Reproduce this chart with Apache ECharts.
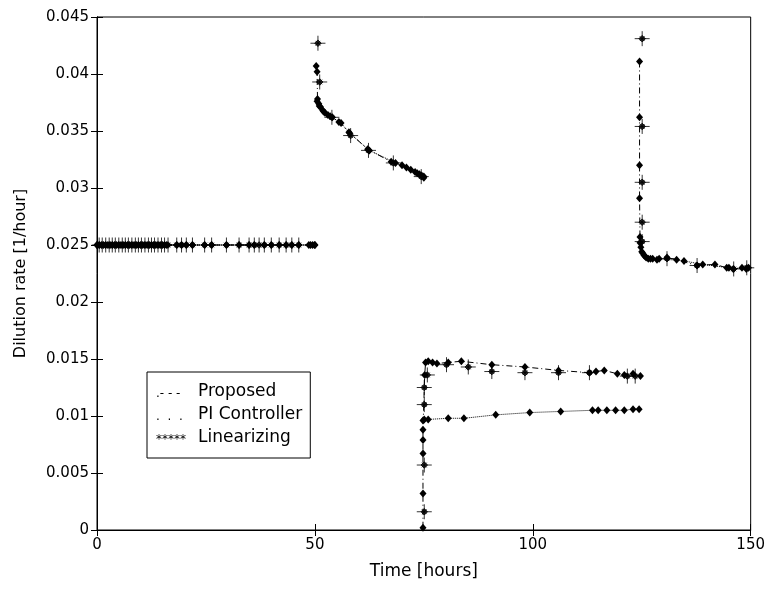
<!DOCTYPE html>
<html>
<head>
<meta charset="utf-8">
<script src="https://cdn.jsdelivr.net/npm/echarts@6/dist/echarts.min.js"></script>
<style>
html,body{margin:0;padding:0;background:#fff;}
#c{width:768px;height:589px;}
</style>
</head>
<body>
<div id="c"></div>
<script>
// ---- data (time in hours, dilution rate in 1/hour) ----
const seriesNames = ['Proposed', 'PI Controller', 'Linearizing'];
const legendSamples = ['.- - -', '.  .  .', '*****'];
const xTicks = [0, 50, 100, 150];
const yTicks = [0, 0.005, 0.01, 0.015, 0.02, 0.025, 0.03, 0.035, 0.04, 0.045];

const proposed = [
  [0,0.025],[1,0.025],[2,0.025],[3,0.025],[4,0.025],[5,0.025],[6,0.025],[7,0.025],[8,0.025],
  [9,0.025],[10,0.025],[11,0.025],[12,0.025],[13,0.025],[14,0.025],[15,0.025],[16,0.025],
  [18.3,0.025],[20.5,0.025],[24.7,0.025],[29.7,0.025],[34.9,0.025],[38.4,0.025],[41.8,0.025],
  [44.7,0.025],[48.6,0.025],[49.5,0.025],[50,0.025],
  null,
  [50.3,0.0407],[50.5,0.0402],[50.6,0.0378],[50.9,0.0374],[51.3,0.0371],[51.8,0.0368],
  [52.3,0.0366],[53,0.0364],[54,0.0362],[55.5,0.0358],[57.8,0.0349],[62.1,0.0334],
  [67.5,0.0323],[70,0.0320],[72,0.0316],[73.5,0.0313],[74.5,0.0311],[75,0.0309],
  null,
  [74.8,0.0002],[74.8,0.0032],[74.8,0.0067],[74.8,0.0079],[74.8,0.0088],
  [75.2,0.0136],[75.4,0.0147],[76,0.0148],[77,0.0147],[78,0.0146],[80.6,0.0147],[83.6,0.0148],
  [90.6,0.0145],[98.2,0.0143],[105.9,0.0140],[113,0.0138],[114.5,0.0139],[116.4,0.0140],
  [119.4,0.0137],[121,0.0136],[123,0.0137],[124.7,0.0135],
  null,
  [124.5,0.0411],[124.5,0.0362],[124.5,0.0320],[124.5,0.0291],[124.6,0.0257],[124.8,0.0248],
  [125.2,0.0243],[125.8,0.0240],[126.5,0.0238],[127.5,0.0238],[128.5,0.0237],[130.8,0.0239],
  [133,0.0237],[137.7,0.0232],[141.8,0.0233],[144.5,0.0230],[146,0.0229],[148,0.0230],[149.5,0.0230]
];

const piController = [
  [0,0.025],[0.5,0.025],[1.5,0.025],[2.5,0.025],[3.5,0.025],[4.5,0.025],[5.5,0.025],[6.5,0.025],
  [7.5,0.025],[8.5,0.025],[9.5,0.025],[10.5,0.025],[11.5,0.025],[12.5,0.025],[13.5,0.025],
  [14.5,0.025],[15.5,0.025],[19.4,0.025],[21.9,0.025],[26.3,0.025],[32.6,0.025],[36.1,0.025],
  [40,0.025],[43.4,0.025],[46.3,0.025],[49,0.025],[50,0.025],
  null,
  [50.5,0.0376],[51,0.0372],[52,0.0367],[53.5,0.0363],[56,0.0357],[58,0.0348],[62.5,0.0333],
  [68.5,0.0322],[71,0.0318],[73,0.0314],[74,0.0312],[75,0.0310],
  null,
  [74.8,0.0096],[75.1,0.0097],[76,0.0097],[80.6,0.0098],[84.2,0.0098],[91.5,0.0101],
  [99.3,0.0103],[106.4,0.0104],[113.7,0.0105],[115,0.0105],[117,0.0105],[119,0.0105],
  [121,0.0105],[123,0.0106],[124.4,0.0106],
  null,
  [124.6,0.0252],[125,0.0244],[125.5,0.0241],[126,0.0239],[127,0.0238],[129,0.0238],
  [134.7,0.0236],[139,0.0233],[145,0.0230],[149,0.0229]
];

const linearizing = [
  [0.5,0.025],[1.2,0.025],[2,0.025],[2.8,0.025],[3.5,0.025],[4.2,0.025],[5,0.025],[5.8,0.025],
  [6.5,0.025],[7.2,0.025],[8,0.025],[8.8,0.025],[9.5,0.025],[10.2,0.025],[11,0.025],[11.8,0.025],
  [12.5,0.025],[13.2,0.025],[14,0.025],[14.8,0.025],[15.5,0.025],[16.3,0.025],[18.3,0.025],
  [19.4,0.025],[20.5,0.025],[21.9,0.025],[24.7,0.025],[26.3,0.025],[29.7,0.025],[32.6,0.025],
  [34.9,0.025],[36.1,0.025],[37.2,0.025],[38.4,0.025],[40,0.025],[41.8,0.025],[43.4,0.025],
  [44.7,0.025],[46.3,0.025],
  [50.7,0.0427],[51.1,0.0393],[53.9,0.0362],[58.2,0.0346],[62.3,0.0333],[68,0.0322],[74.4,0.0310],
  [75.1,0.0016],[75.1,0.0057],[75.1,0.0110],[75.1,0.0125],[75.8,0.0136],[80.2,0.0145],
  [85.2,0.0143],[90.6,0.0139],[98.2,0.0138],[105.9,0.0138],[113,0.0138],[121.7,0.0135],[123.5,0.0135],
  [125.1,0.0431],[125.1,0.0354],[125.1,0.0305],[125.1,0.0270],[125.1,0.0253],
  [130.8,0.0238],[137.7,0.0232],[146.1,0.0229],[149.1,0.0230]
];

const starPath = 'path://M0,8L16,8M8,0L8,16M5.5,5.5L10.5,10.5M10.5,5.5L5.5,10.5M8,4.5L11.5,8L8,11.5L4.5,8Z';
const font = 'DejaVu Sans';

const chart = echarts.init(document.getElementById('c'), null, {renderer: 'canvas'});
const fmt = v => String(+v.toFixed(3));

chart.setOption({
  animation: false,
  backgroundColor: '#fff',
  textStyle: {fontFamily: font, color: '#000'},
  grid: {left: 97, right: 14, top: 17, bottom: 59, show: true, borderColor: '#000', borderWidth: 1},
  legend: {
    orient: 'vertical',
    left: 147, top: 372,
    data: seriesNames,
    icon: 'none',
    itemWidth: 0,
    itemHeight: 14,
    itemGap: 6,
    backgroundColor: '#fff',
    borderColor: '#000',
    borderWidth: 1,
    borderRadius: 0,
    padding: [11, 8, 12, 4],
    selectedMode: false,
    formatter: name => '{s|' + legendSamples[seriesNames.indexOf(name)] + '}' + name,
    textStyle: {
      fontFamily: font, fontSize: 17, color: '#000',
      rich: {s: {width: 42, fontSize: 12, fontFamily: font, color: '#000', verticalAlign: 'bottom'}}
    }
  },
  xAxis: [{
    type: 'value', min: 0, max: 150, interval: 50,
    name: 'Time [hours]', nameLocation: 'middle', nameGap: 33,
    nameTextStyle: {fontFamily: font, fontSize: 17, color: '#000'},
    axisLine: {lineStyle: {color: '#000', width: 1}},
    axisTick: {inside: true, length: 6, lineStyle: {color: '#000'}},
    axisLabel: {fontFamily: font, fontSize: 15, color: '#000', margin: 8, formatter: v => xTicks.includes(v) ? String(v) : ''},
    splitLine: {show: false}
  }, {
    type: 'value', position: 'top', min: 0, max: 150, interval: 50,
    axisLine: {lineStyle: {color: '#000'}},
    axisTick: {inside: true, length: 6, lineStyle: {color: '#000'}},
    axisLabel: {show: false}, splitLine: {show: false}
  }],
  yAxis: [{
    type: 'value', min: 0, max: 0.045, interval: 0.005,
    name: 'Dilution rate [1/hour]', nameLocation: 'middle', nameGap: 68,
    nameTextStyle: {fontFamily: font, fontSize: 16, color: '#000'},
    axisLine: {show: true, lineStyle: {color: '#000', width: 1}},
    axisTick: {show: true, inside: true, length: 6, lineStyle: {color: '#000'}},
    axisLabel: {fontFamily: font, fontSize: 15, color: '#000', margin: 8,
      formatter: v => yTicks.some(t => Math.abs(t - v) < 1e-9) ? fmt(v) : ''},
    splitLine: {show: false}
  }, {
    type: 'value', position: 'right', min: 0, max: 0.045, interval: 0.005,
    axisLine: {show: true, lineStyle: {color: '#000'}},
    axisTick: {show: true, inside: true, length: 6, lineStyle: {color: '#000'}},
    axisLabel: {show: false}, splitLine: {show: false}
  }],
  series: [{
    name: 'Proposed', type: 'line', data: proposed, connectNulls: false,
    symbol: 'diamond', symbolSize: [7, 8], showAllSymbol: true,
    itemStyle: {color: '#000'},
    lineStyle: {color: '#000', width: 1, type: [6, 3, 1, 3]}
  }, {
    name: 'PI Controller', type: 'line', data: piController, connectNulls: false,
    symbol: 'diamond', symbolSize: [7, 8], showAllSymbol: true,
    itemStyle: {color: '#000'},
    lineStyle: {color: '#000', width: 1, type: 'dotted'}
  }, {
    name: 'Linearizing', type: 'scatter', data: linearizing,
    symbol: starPath, symbolSize: 15,
    itemStyle: {color: '#000', borderColor: '#000', borderWidth: 1}
  }]
});
</script>
</body>
</html>
